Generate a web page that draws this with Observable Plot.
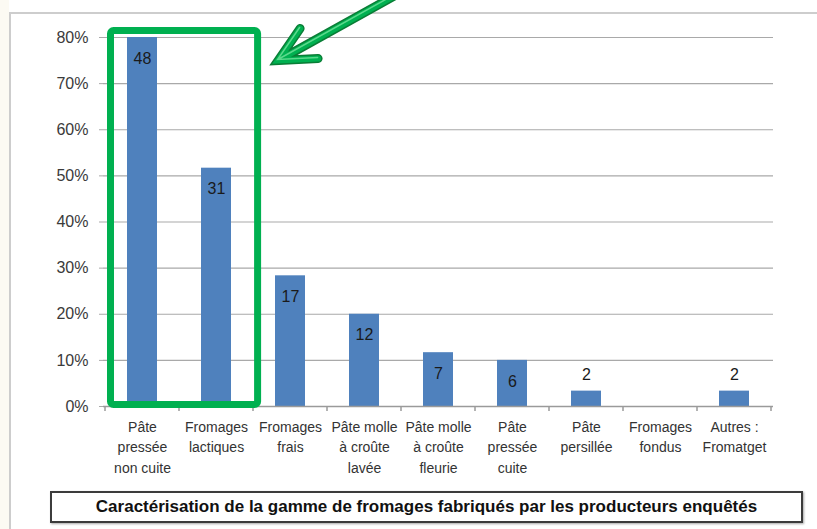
<!DOCTYPE html>
<html>
<head>
<meta charset="utf-8">
<script src="https://cdn.jsdelivr.net/npm/d3@7"></script>
<script src="https://cdn.jsdelivr.net/npm/@observablehq/plot@0.6"></script>
<style>
  html, body { margin: 0; padding: 0; background: #ffffff; }
  body { width: 817px; height: 529px; position: relative; overflow: hidden; font-family: "Liberation Sans", Arial, sans-serif; }
  #strip { position: absolute; left: 0; top: 0; width: 9px; height: 529px; background: #fcfaf3; }
  #frame { position: absolute; left: 9px; top: 12px; width: 820px; height: 530px; border-top: 2px solid #cdcdcd; border-left: 2px solid #cdcdcd; }
  #chart { position: absolute; left: 0; top: 0; }
  #caption { position: absolute; left: 50px; top: 491px; width: 749px; height: 28px; border: 2px solid #3c3c3c;
             box-shadow: 1px 1px 2px rgba(0,0,0,0.35); background: #fff;
             font-weight: bold; font-size: 17px; line-height: 28px; text-align: center; color: #111; white-space: nowrap; }
</style>
</head>
<body>
<div id="strip"></div>
<div id="frame"></div>
<div id="chart"></div>
<div id="caption">Caractérisation de la gamme de fromages fabriqués par les producteurs enquêtés</div>
<script>
// ---- data ----
const categories = [
  "Pâte\npressée\nnon cuite",
  "Fromages\nlactiques",
  "Fromages\nfrais",
  "Pâte molle\nà croûte\nlavée",
  "Pâte molle\nà croûte\nfleurie",
  "Pâte\npressée\ncuite",
  "Pâte\npersillée",
  "Fromages\nfondus",
  "Autres :\nFromatget"
];
const counts = [48, 31, 17, 12, 7, 6, 2, 0, 2];
const respondents = 60;
const yTicks = [0, 0.1, 0.2, 0.3, 0.4, 0.5, 0.6, 0.7, 0.8];
const highlighted = ["Pâte\npressée\nnon cuite", "Fromages\nlactiques"];

const data = categories.map((c, i) => ({cat: c, count: counts[i], share: counts[i] / respondents}));

const plot = Plot.plot({
  width: 817,
  height: 480,
  marginLeft: 103,
  marginRight: 44,
  marginTop: 37,
  marginBottom: 74,
  style: {fontFamily: "'Liberation Sans', Arial, sans-serif", fontSize: "14px", background: "transparent", overflow: "visible"},
  x: {domain: categories, paddingInner: 0.6, paddingOuter: 0.32},
  y: {domain: [0, 0.8]},
  marks: [
    Plot.gridY(yTicks, {stroke: "#a9a9a9", strokeOpacity: 1, strokeWidth: 1.2}),
    Plot.axisY(yTicks, {tickFormat: d => Math.round(d * 100) + "%", tickSize: 4, tickPadding: 11,
                        stroke: "#a9a9a9", fill: "#3a3a3a", fontSize: 16, label: null}),
    Plot.barY(data, {x: "cat", y: "share", fill: "#4f81bd"}),
    Plot.ruleY([0], {stroke: "#9a9a9a", strokeWidth: 1.5}),
    Plot.axisX({tickSize: 0, tickPadding: 11, fill: "#333", fontSize: 14, lineHeight: 1.45, label: null}),
    Plot.text(data.filter(d => d.count >= 5), {x: "cat", y: "share", text: d => String(d.count), dy: 21,
              fill: "#1a1a1a", fontSize: 16}),
    Plot.text(data.filter(d => d.count > 0 && d.count < 5), {x: "cat", y: "share", text: d => String(d.count), dy: -16,
              fill: "#1a1a1a", fontSize: 16})
  ]
});
document.getElementById("chart").appendChild(plot);

// ---- overlays derived from the scales ----
(function () {
  const xs = plot.scale("x");
  const ys = plot.scale("y");
  const step = xs.step, bw = xs.bandwidth;
  const svg = d3.select(plot);
  const gap = (step - bw) / 2;

  // category boundary tick marks on the x axis
  const y0 = ys.apply(0);
  const bounds = categories.map(c => xs.apply(c) - gap).concat([xs.apply(categories[categories.length - 1]) + bw + gap]);
  svg.append("g").selectAll("line").data(bounds).join("line")
    .attr("x1", d => d).attr("x2", d => d).attr("y1", y0).attr("y2", y0 + 5)
    .attr("stroke", "#9a9a9a").attr("stroke-width", 1.5);

  // green highlight box around the two first categories
  const bxLeft = xs.apply(highlighted[0]) - gap + 5.5;
  const bxRight = xs.apply(highlighted[1]) + bw + gap + 4.6;
  const bxTop = ys.apply(0.8) - 6.5;
  const bxBottom = y0 - 1.5;
  svg.append("rect")
    .attr("x", bxLeft).attr("y", bxTop).attr("width", bxRight - bxLeft).attr("height", bxBottom - bxTop)
    .attr("rx", 3).attr("fill", "none").attr("stroke", "#00b050").attr("stroke-width", 7);

  // green arrow pointing at the box
  const tx = bxRight + 19.5, ty = bxTop + 31;
  const arrowPath = `M${tx + 118},${ty - 66} L${tx + 3},${ty - 2} M${tx + 23},${ty - 33} L${tx + 1},${ty - 1} L${tx + 41},${ty - 3}`;
  const ga = svg.append("g").attr("fill", "none").attr("stroke-linecap", "round").attr("stroke-linejoin", "miter");
  ga.append("path").attr("d", arrowPath).attr("stroke", "#0a7d36").attr("stroke-width", 9);
  ga.append("path").attr("d", arrowPath).attr("stroke", "#00b050").attr("stroke-width", 6);
  ga.append("path").attr("d", arrowPath).attr("stroke", "#5bd98c").attr("stroke-width", 1.5).attr("transform", "translate(-0.5,-1)");
})();
</script>
</body>
</html>
